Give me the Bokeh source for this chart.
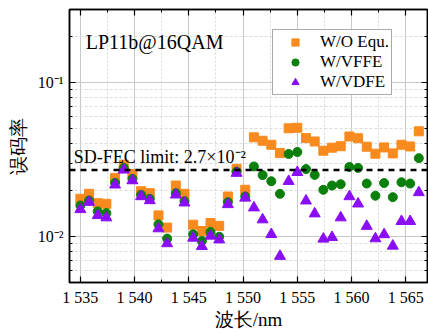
from bokeh.plotting import figure
from bokeh.models import (FixedTicker, LinearAxis, LogAxis, Legend, LegendItem,
                          Span, Label, Range1d)
from bokeh.embed import file_html
from bokeh.resources import INLINE

# ---- data -------------------------------------------------------------
wavelength = [1535.0, 1535.8, 1536.6, 1537.4, 1538.2, 1539.0, 1539.8, 1540.6,
              1541.4, 1542.2, 1543.0, 1543.8, 1544.6, 1545.4, 1546.2, 1547.0,
              1547.8, 1548.6, 1549.4, 1550.2, 1551.0, 1551.8, 1552.6, 1553.4,
              1554.2, 1555.0, 1555.8, 1556.6, 1557.4, 1558.2, 1559.0, 1559.8,
              1560.6, 1561.4, 1562.2, 1563.0, 1563.8, 1564.6, 1565.4, 1566.2]

ber_wo_equ = [0.01755, 0.0189, 0.01643, 0.01628, 0.0240, 0.02928, 0.02548, 0.01966,
              0.01909, 0.01368, 0.01139, 0.0214, 0.0189, 0.0119, 0.01082, 0.0122,
              0.0117, 0.01816, 0.02747, 0.02008, 0.0441, 0.0419, 0.03947, 0.03488,
              0.0505, 0.0509, 0.0436, 0.04146, 0.03609, 0.03774, 0.0386, 0.04467,
              0.04349, 0.03831, 0.03451, 0.03792, 0.03467, 0.03947, 0.03847, 0.04828]

ber_vffe = [0.01588, 0.0171, 0.01452, 0.01416, 0.02228, 0.02788, 0.02366, 0.01863,
            0.01755, 0.01196, 0.00966, 0.01909, 0.01693, 0.0103, 0.00932, 0.01066,
            0.00993, 0.01669, 0.02638, 0.01816, 0.0285, 0.02503, 0.02282, 0.0189,
            0.03436, 0.0354, 0.0274, 0.0251, 0.02008, 0.0214, 0.02183, 0.0283,
            0.02788, 0.02205, 0.01838, 0.02222, 0.01798, 0.02249, 0.02205, 0.03227]

ber_vdfe = [0.01496, 0.01669, 0.01368, 0.01322, 0.02163, 0.02706, 0.02306, 0.01816,
            0.0171, 0.01122, 0.00897, 0.01863, 0.01653, 0.00975, 0.00861, 0.01005,
            0.0095, 0.01612, 0.02579, 0.01777, 0.01535, 0.01283, 0.0103, 0.00742,
            0.02282, 0.0261, 0.01703, 0.01403, 0.00961, 0.00985, 0.01322, 0.01816,
            0.01628, 0.01164, 0.00966, 0.01027, 0.00865, 0.01251, 0.01251, 0.01929]

series_labels = ["W/O Equ.", "W/VFFE", "W/VDFE"]

x_tick_values = [1535, 1540, 1545, 1550, 1555, 1560, 1565]
x_tick_labels = ["1 535", "1 540", "1 545", "1 550", "1 555", "1 560", "1 565"]
x_minor_ticks = [1537.5, 1542.5, 1547.5, 1552.5, 1557.5, 1562.5]

y_tick_values = [0.01, 0.1]
y_tick_labels = ["10\u207b\u00b2", "10\u207b\u00b9"]
y_minor_ticks = [0.005, 0.006, 0.007, 0.008, 0.009,
                 0.02, 0.03, 0.04, 0.05, 0.06, 0.07, 0.08, 0.09,
                 0.2, 0.3]

fec_limit = 2.7e-2
fec_text = "SD-FEC limit: 2.7\u00d710\u207b\u00b2"
panel_title = "LP11b@16QAM"
x_title = "波长/nm"
y_title = "误码率"

# ---- style ------------------------------------------------------------
SERIF = "Liberation Serif"
ORANGE = "#F98A1E"
GREEN = "#0B7F0B"
PURPLE = "#8A0EF5"

p = figure(width=428, height=333,
           x_range=Range1d(1534, 1567), y_range=Range1d(0.005, 0.3),
           y_axis_type="log", output_backend="svg", toolbar_location=None,
           min_border_left=69, min_border_right=1, min_border_top=9,
           min_border_bottom=51)
p.background_fill_color = "white"
p.border_fill_color = "white"
p.outline_line_color = "black"
p.outline_line_width = 1.5

xticker = FixedTicker(ticks=x_tick_values, minor_ticks=x_minor_ticks)
yticker = FixedTicker(ticks=y_tick_values, minor_ticks=y_minor_ticks)

def style_axis(ax):
    ax.axis_line_color = "black"
    ax.axis_line_width = 1.5
    ax.major_tick_in = 6
    ax.major_tick_out = 0
    ax.minor_tick_in = 3
    ax.minor_tick_out = 0
    ax.major_tick_line_color = "black"
    ax.minor_tick_line_color = "black"
    ax.major_tick_line_width = 1.2
    ax.minor_tick_line_width = 1.0
    ax.major_label_text_font = SERIF
    ax.major_label_text_color = "black"
    ax.axis_label_text_font = SERIF
    ax.axis_label_text_font_style = "normal"
    ax.axis_label_text_color = "black"

xa = p.xaxis[0]
xa.ticker = xticker
style_axis(xa)
xa.major_label_overrides = dict(zip(x_tick_values, x_tick_labels))
xa.major_label_text_font_size = "16px"
xa.major_label_standoff = 6
xa.axis_label = x_title
xa.axis_label_text_font_size = "19px"
xa.axis_label_standoff = 0

ya = p.yaxis[0]
ya.ticker = yticker
style_axis(ya)
ya.major_label_overrides = dict(zip(y_tick_values, y_tick_labels))
ya.major_label_text_font_size = "16px"
ya.major_label_standoff = 6
ya.axis_label = y_title
ya.axis_label_text_font_size = "19px"
ya.axis_label_standoff = 6

def mirror_axis(ax):
    style_axis(ax)
    ax.major_label_text_font_size = "1px"
    ax.major_label_text_color = None
    ax.major_label_standoff = 0

top = LinearAxis(ticker=xticker)
mirror_axis(top)
p.add_layout(top, "above")

right = LogAxis(ticker=yticker)
mirror_axis(right)
p.add_layout(right, "right")

p.xgrid.ticker = xticker
p.ygrid.ticker = yticker
p.xgrid.grid_line_color = "#c8c8c8"
p.xgrid.grid_line_width = 1
p.xgrid.minor_grid_line_color = "#d8d8d8"
p.xgrid.minor_grid_line_dash = "2 2"
p.ygrid.grid_line_color = "#c8c8c8"
p.ygrid.grid_line_width = 1
p.ygrid.minor_grid_line_color = "#dcdcdc"
p.ygrid.minor_grid_line_dash = "3 2"

# threshold line
fec = Span(location=fec_limit, dimension="width", line_color="black",
           line_width=2.5, line_dash="6 5", level="glyph")
p.add_layout(fec)

r1 = p.scatter(wavelength, ber_wo_equ, marker="square", size=9,
               fill_color=ORANGE, line_color=ORANGE)
r2 = p.scatter(wavelength, ber_vffe, marker="circle", size=9,
               fill_color=GREEN, line_color=GREEN)
r3 = p.scatter(wavelength, ber_vdfe, marker="triangle", size=11,
               fill_color=PURPLE, line_color=PURPLE)

p.add_layout(Label(x=1535.5, y=0.184, text=panel_title,
                   text_font=SERIF, text_font_size="20px",
                   text_color="black", text_baseline="alphabetic"))
p.add_layout(Label(x=1534.4, y=0.033, text=fec_text,
                   text_font=SERIF, text_font_size="18px",
                   text_color="black", text_baseline="alphabetic"))

legend = Legend(items=[LegendItem(label=series_labels[0], renderers=[r1]),
                       LegendItem(label=series_labels[1], renderers=[r2]),
                       LegendItem(label=series_labels[2], renderers=[r3])],
                location=(203, 187))
legend.padding = 2
legend.spacing = 0
legend.margin = 0
legend.glyph_width = 40
legend.glyph_height = 18
legend.label_height = 20
legend.label_width = 20
legend.label_standoff = 5
legend.label_text_font = SERIF
legend.label_text_font_size = "17px"
legend.label_text_color = "black"
legend.border_line_color = "#555555"
legend.border_line_width = 1
legend.background_fill_color = "white"
legend.background_fill_alpha = 1.0
p.add_layout(legend)

open("out.html", "w").write(file_html(p, INLINE))
